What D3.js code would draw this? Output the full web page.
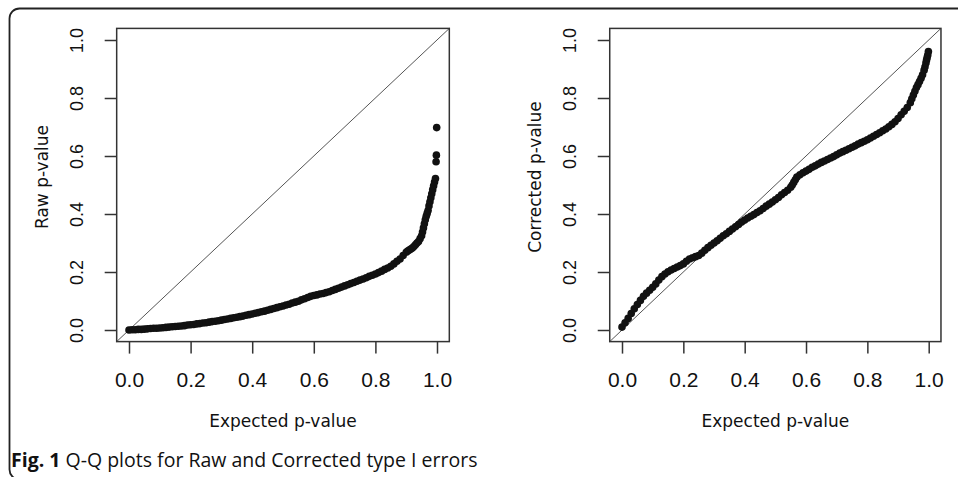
<!DOCTYPE html>
<html>
<head>
<meta charset="utf-8">
<script src="https://cdn.jsdelivr.net/npm/d3@7"></script>
<style>
  body { margin: 0; background: #fff; }
  svg { display: block; }
</style>
</head>
<body>
<div id="chart"></div>
<script>
// values
const rawExpected = [
  0.00, 0.01, 0.02, 0.03, 0.04, 0.05, 0.06, 0.07, 0.08, 0.09,
  0.10, 0.11, 0.12, 0.13, 0.14, 0.15, 0.16, 0.17, 0.18, 0.19,
  0.20, 0.21, 0.22, 0.23, 0.24, 0.25, 0.26, 0.27, 0.28, 0.29,
  0.30, 0.31, 0.32, 0.33, 0.34, 0.35, 0.36, 0.37, 0.38, 0.39,
  0.40, 0.41, 0.42, 0.43, 0.44, 0.45, 0.46, 0.47, 0.48, 0.49,
  0.50, 0.51, 0.52, 0.53, 0.54, 0.55, 0.56, 0.57, 0.58, 0.59,
  0.60, 0.61, 0.62, 0.63, 0.64, 0.65, 0.66, 0.67, 0.68, 0.69,
  0.70, 0.71, 0.72, 0.73, 0.74, 0.75, 0.76, 0.77, 0.78, 0.79,
  0.80, 0.81, 0.82, 0.83, 0.84, 0.85, 0.86, 0.87, 0.88, 0.89,
  0.90, 0.905, 0.91, 0.915, 0.92, 0.925, 0.93, 0.935, 0.94, 0.945,
  0.95, 0.953, 0.956, 0.959, 0.962, 0.965, 0.968, 0.971, 0.974, 0.977,
  0.980, 0.983, 0.986, 0.989, 0.992, 0.995, 0.997, 0.998, 0.999
];
const rawObserved = [
  0.000, 0.001, 0.001, 0.002, 0.002, 0.003, 0.004, 0.005, 0.006, 0.006,
  0.007, 0.008, 0.009, 0.010, 0.011, 0.012, 0.013, 0.014, 0.015, 0.017,
  0.018, 0.019, 0.021, 0.022, 0.024, 0.025, 0.027, 0.029, 0.030, 0.032,
  0.034, 0.036, 0.038, 0.040, 0.042, 0.044, 0.046, 0.048, 0.051, 0.053,
  0.055, 0.058, 0.060, 0.063, 0.065, 0.068, 0.071, 0.074, 0.077, 0.080,
  0.083, 0.086, 0.089, 0.093, 0.096, 0.099, 0.104, 0.108, 0.112, 0.116,
  0.119, 0.121, 0.124, 0.126, 0.129, 0.132, 0.136, 0.140, 0.144, 0.148,
  0.152, 0.156, 0.160, 0.164, 0.168, 0.172, 0.176, 0.180, 0.185, 0.189,
  0.193, 0.198, 0.203, 0.209, 0.214, 0.220, 0.228, 0.237, 0.245, 0.257,
  0.268, 0.272, 0.276, 0.279, 0.283, 0.288, 0.294, 0.300, 0.305, 0.315,
  0.325, 0.338, 0.352, 0.366, 0.380, 0.392, 0.402, 0.412, 0.428, 0.442,
  0.456, 0.470, 0.484, 0.497, 0.510, 0.522, 0.580, 0.603, 0.698
];
const corExpected = [
  0.00, 0.01, 0.02, 0.03, 0.04, 0.05, 0.06, 0.07, 0.08, 0.09,
  0.10, 0.11, 0.12, 0.13, 0.14, 0.15, 0.16, 0.17, 0.18, 0.19,
  0.20, 0.21, 0.22, 0.23, 0.24, 0.25, 0.26, 0.27, 0.28, 0.29,
  0.30, 0.31, 0.32, 0.33, 0.34, 0.35, 0.36, 0.37, 0.38, 0.39,
  0.40, 0.41, 0.42, 0.43, 0.44, 0.45, 0.46, 0.47, 0.48, 0.49,
  0.50, 0.51, 0.52, 0.53, 0.54, 0.55, 0.555, 0.56, 0.565, 0.57,
  0.58, 0.59, 0.60, 0.61, 0.62, 0.63, 0.64, 0.65, 0.66, 0.67,
  0.68, 0.69, 0.70, 0.71, 0.72, 0.73, 0.74, 0.75, 0.76, 0.77,
  0.78, 0.79, 0.80, 0.81, 0.82, 0.83, 0.84, 0.85, 0.86, 0.87,
  0.88, 0.89, 0.90, 0.91, 0.92, 0.93, 0.94, 0.945, 0.95, 0.955,
  0.96, 0.965, 0.97, 0.975, 0.98, 0.985, 0.988, 0.991, 0.993, 0.995,
  0.997, 0.999
];
const corObserved = [
  0.010, 0.025, 0.040, 0.057, 0.073, 0.088, 0.102, 0.116, 0.127, 0.137,
  0.147, 0.159, 0.172, 0.184, 0.193, 0.201, 0.207, 0.212, 0.217, 0.222,
  0.228, 0.237, 0.245, 0.249, 0.253, 0.257, 0.265, 0.275, 0.284, 0.292,
  0.300, 0.308, 0.316, 0.325, 0.332, 0.340, 0.348, 0.356, 0.364, 0.372,
  0.379, 0.386, 0.392, 0.398, 0.405, 0.411, 0.419, 0.427, 0.434, 0.441,
  0.449, 0.457, 0.466, 0.474, 0.482, 0.492, 0.500, 0.509, 0.518, 0.527,
  0.535, 0.542, 0.548, 0.554, 0.561, 0.566, 0.572, 0.578, 0.583, 0.588,
  0.593, 0.598, 0.604, 0.610, 0.615, 0.620, 0.625, 0.630, 0.635, 0.641,
  0.646, 0.651, 0.656, 0.662, 0.668, 0.674, 0.680, 0.687, 0.693, 0.701,
  0.709, 0.718, 0.729, 0.742, 0.754, 0.767, 0.784, 0.797, 0.810, 0.823,
  0.836, 0.846, 0.857, 0.868, 0.880, 0.896, 0.908, 0.921, 0.931, 0.940,
  0.948, 0.960
];
const tickValues = [0, 0.2, 0.4, 0.6, 0.8, 1.0];
const xTitle = "Expected p-value";
const yTitles = ["Raw p-value", "Corrected p-value"];
const captionBold = "Fig. 1";
const captionText = " Q-Q plots for Raw and Corrected type I errors";

const W = 958, H = 477;

const svg = d3.select("#chart")
  .append("svg")
  .attr("width", W)
  .attr("height", H);

// figure frame (rounded, runs off the right and bottom edges)
svg.append("rect")
  .attr("x", 9.5).attr("y", 8.5)
  .attr("width", 1000).attr("height", 471)
  .attr("rx", 10)
  .attr("fill", "none")
  .attr("stroke", "#222")
  .attr("stroke-width", 1.8);

const panels = [
  { exp: rawExpected, obs: rawObserved, xRange: [129, 437], ylab: yTitles[0] },
  { exp: corExpected, obs: corObserved, xRange: [622, 928.7], ylab: yTitles[1] }
];

panels.forEach(function (p) {
  const x = d3.scaleLinear().domain([0, 1]).range(p.xRange);
  const y = d3.scaleLinear().domain([0, 1]).range([330, 40]);
  // R pads the range by 4% on each side
  const xl = x(-0.04), xr = x(1.04), yb = y(-0.04), yt = y(1.04);

  const g = svg.append("g");

  // y = x reference line
  g.append("line")
    .attr("x1", xl).attr("y1", yb)
    .attr("x2", xr).attr("y2", yt)
    .attr("stroke", "#555")
    .attr("stroke-width", 1);

  // points
  g.append("g")
    .selectAll("circle")
    .data(p.exp)
    .join("circle")
    .attr("cx", d => x(d))
    .attr("cy", (d, i) => y(p.obs[i]))
    .attr("r", 3.8)
    .attr("fill", "#111");

  // plot box
  g.append("rect")
    .attr("x", xl).attr("y", yt)
    .attr("width", xr - xl).attr("height", yb - yt)
    .attr("fill", "none")
    .attr("stroke", "#333")
    .attr("stroke-width", 1.5);

  // x axis
  const xa = g.append("g")
    .attr("transform", `translate(0,${yb})`)
    .call(d3.axisBottom(x).tickValues(tickValues).tickFormat(d3.format(".1f"))
      .tickSize(12).tickSizeOuter(0).tickPadding(18));
  xa.select(".domain").remove();
  xa.selectAll(".tick line").attr("stroke", "#333").attr("stroke-width", 1.5);
  xa.selectAll(".tick text")
    .attr("font-family", "'Liberation Sans', Arial, sans-serif")
    .attr("font-size", 21)
    .attr("fill", "#111");

  // y axis, labels parallel to the axis like base R
  const ya = g.append("g")
    .attr("transform", `translate(${xl},0)`)
    .call(d3.axisLeft(y).tickValues(tickValues).tickFormat(d3.format(".1f"))
      .tickSize(12).tickSizeOuter(0));
  ya.select(".domain").remove();
  ya.selectAll(".tick line").attr("stroke", "#333").attr("stroke-width", 1.5);
  ya.selectAll(".tick text")
    .attr("transform", "rotate(-90)")
    .attr("x", 0).attr("y", -34).attr("dy", null)
    .attr("text-anchor", "middle")
    .attr("font-family", "'Liberation Sans', Arial, sans-serif")
    .attr("font-size", 18)
    .attr("fill", "#111");

  // axis titles
  g.append("text")
    .attr("x", (xl + xr) / 2).attr("y", 427)
    .attr("text-anchor", "middle")
    .attr("font-family", "'DejaVu Sans', sans-serif")
    .attr("font-size", 17)
    .attr("fill", "#111")
    .text(xTitle);

  g.append("text")
    .attr("transform", `translate(${xl - 69},177) rotate(-90)`)
    .attr("text-anchor", "middle")
    .attr("font-family", "'DejaVu Sans', sans-serif")
    .attr("font-size", 17)
    .attr("fill", "#111")
    .text(p.ylab);
});

// caption
const cap = svg.append("text")
  .attr("x", 11).attr("y", 467)
  .attr("font-family", "'Open Sans', sans-serif")
  .attr("font-size", 19.5)
  .attr("fill", "#111");
cap.append("tspan").attr("font-weight", "bold").text(captionBold);
cap.append("tspan").text(captionText);
</script>
</body>
</html>
